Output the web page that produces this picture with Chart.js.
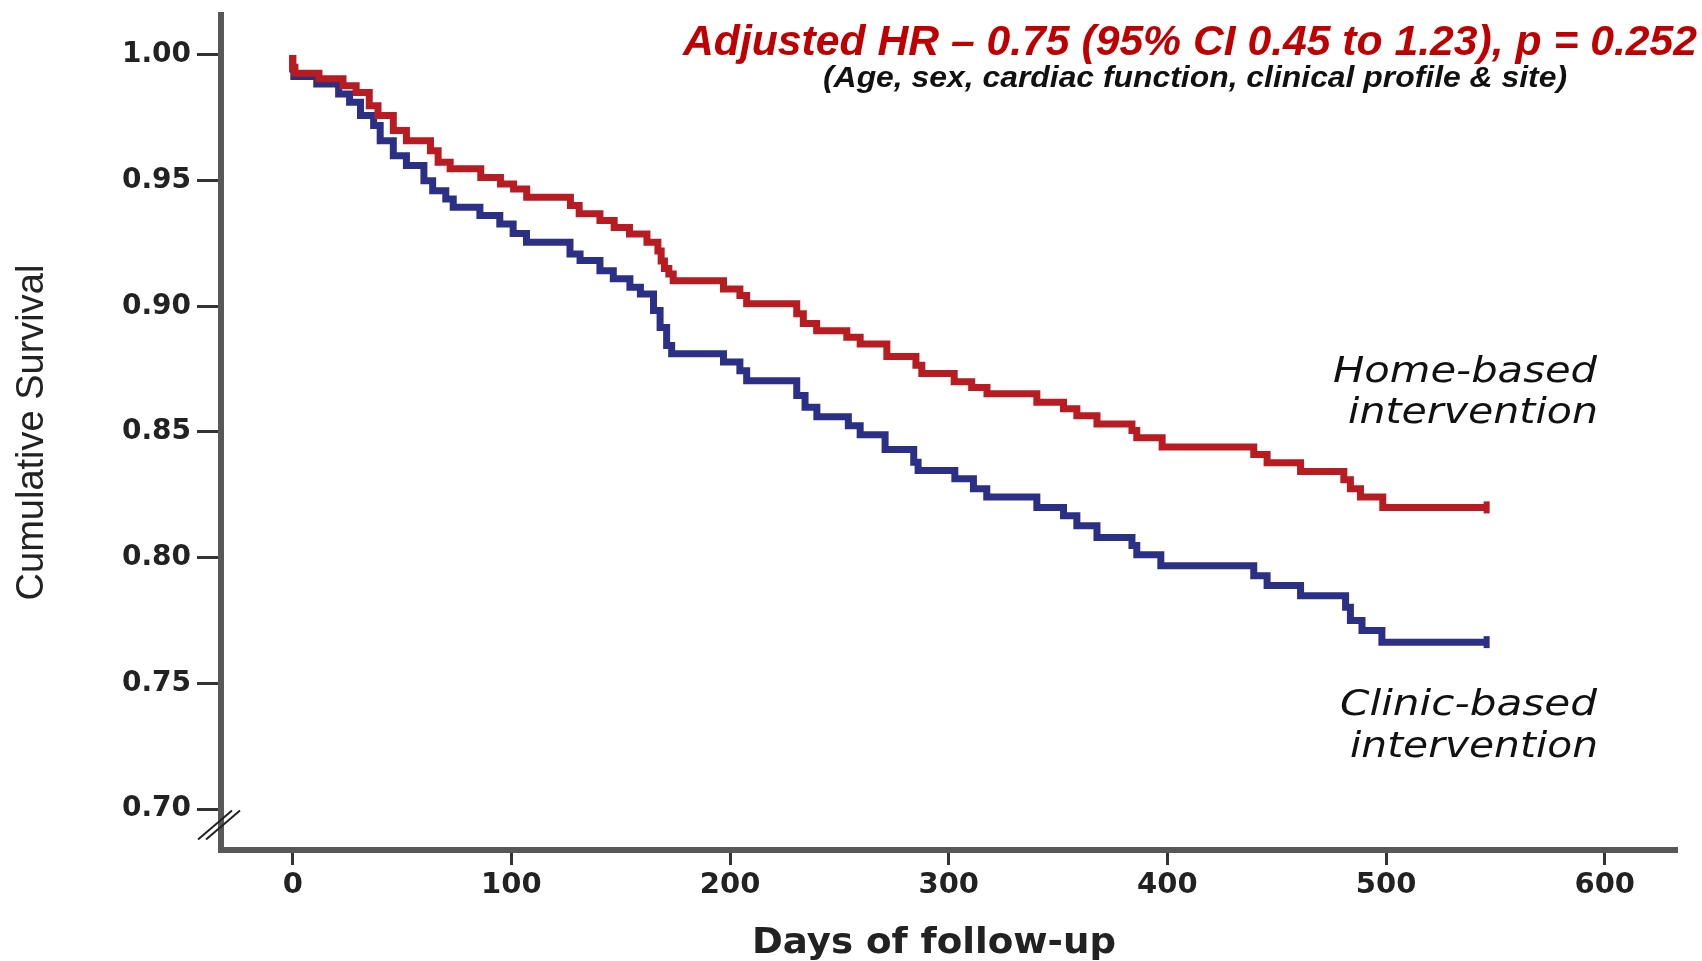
<!DOCTYPE html>
<html>
<head>
<meta charset="utf-8">
<script src="https://cdn.jsdelivr.net/npm/chart.js@4.4.1/dist/chart.umd.min.js"></script>
<style>
  html, body { margin: 0; padding: 0; background: #fff; }
  #wrap { width: 1702px; height: 961px; }
</style>
</head>
<body>
<div id="wrap"><canvas id="km" width="1702" height="961"></canvas></div>
<script>
// Kaplan-Meier steps: day where each level starts, and the level
const homeDays = [0, 1, 12, 23, 29, 35, 39, 46, 52, 63, 66.5, 72, 86, 95, 101, 107, 127, 131, 140.5, 147, 154, 162, 167, 168.5, 170, 172, 174, 197, 204.5, 207.6, 230.5, 233.5, 239.6, 253.4, 259.5, 271.7, 285, 287.7, 302.5, 310.5, 317.5, 340.3, 352.5, 358.6, 367.8, 383.8, 386, 397.6, 439.5, 445.6, 460.9, 480.7, 483.7, 488.3, 498.5, 505.9, 546];
const homeSurv = [1.000, 0.9951, 0.9927, 0.9905, 0.9878, 0.9851, 0.9798, 0.9759, 0.9699, 0.9659, 0.9619, 0.9573, 0.9547, 0.9513, 0.9487, 0.9467, 0.9434, 0.9401, 0.9368, 0.9341, 0.9314, 0.9288, 0.9255, 0.922, 0.918, 0.915, 0.9129, 0.9102, 0.9069, 0.9043, 0.9010, 0.8970, 0.8932, 0.8903, 0.8877, 0.8850, 0.8800, 0.8766, 0.8733, 0.8700, 0.8677, 0.8652, 0.8618, 0.8592, 0.8565, 0.8532, 0.8506, 0.8477, 0.8440, 0.8410, 0.8378, 0.8343, 0.8310, 0.8274, 0.8241, 0.8200, 0.8200];

const clinicDays = [0, 0.5, 11, 21, 26, 31, 37, 40, 46, 52, 60, 64, 70, 73.4, 85.6, 94.7, 100.8, 106.9, 126.8, 131.4, 140.5, 146.6, 154.2, 159, 165, 168, 171, 173.3, 197, 204.5, 207.6, 230.5, 234.3, 239.7, 254.1, 259.5, 270.9, 284, 286, 302.8, 311.3, 317.4, 340.3, 352.5, 358.6, 367.8, 383.8, 386, 397, 439.5, 445.6, 460.9, 481.5, 483.7, 489, 498.1, 505.9, 546];
const clinicSurv = [1.000, 0.9944, 0.9914, 0.9884, 0.9845, 0.9812, 0.9759, 0.9719, 0.9659, 0.9599, 0.9560, 0.9500, 0.9460, 0.9427, 0.9394, 0.9361, 0.9328, 0.9290, 0.9255, 0.9208, 0.9182, 0.9142, 0.9110, 0.9076, 0.9049, 0.8983, 0.8916, 0.8844, 0.8811, 0.8778, 0.8744, 0.8704, 0.8645, 0.8598, 0.8561, 0.8525, 0.8489, 0.8430, 0.8380, 0.8347, 0.8314, 0.8274, 0.8241, 0.8200, 0.8167, 0.8127, 0.8080, 0.8048, 0.8012, 0.7968, 0.7928, 0.7889, 0.7849, 0.7803, 0.7750, 0.7710, 0.7664, 0.7664];

const xTicks = [0, 100, 200, 300, 400, 500, 600];
const yTicks = [0.70, 0.75, 0.80, 0.85, 0.90, 0.95, 1.00];

const RED = "#b81c22";
const BLUE = "#2b2f86";
const AXIS = "#585858";

const toPoints = (days, surv) => days.map((d, i) => ({ x: d, y: surv[i] }));

// censor tick on the last point only
const lastOnly = (size) => (ctx) => (ctx.dataIndex === ctx.dataset.data.length - 1 ? size : 0);

// draw text squeezed / stretched to a given width (the slide text is not at natural proportions)
function fitText(ctx, str, left, baseline, width, font, color) {
  ctx.save();
  ctx.font = font;
  ctx.fillStyle = color;
  ctx.textBaseline = "alphabetic";
  ctx.textAlign = "left";
  const w = ctx.measureText(str).width;
  ctx.translate(left, baseline);
  ctx.scale(width / w, 1);
  ctx.fillText(str, 0, 0);
  ctx.restore();
}

const overlay = {
  id: "overlay",
  afterDraw(chart) {
    const ctx = chart.ctx;
    const x = chart.scales.x;
    const y = chart.scales.y;

    // axis break marks
    const bx = x.left;
    const by = y.getPixelForValue(0.6938);
    ctx.save();
    ctx.strokeStyle = "#222";
    ctx.lineWidth = 2;
    [-4, 4].forEach((off) => {
      ctx.beginPath();
      ctx.moveTo(bx - 19 + off, by + 15);
      ctx.lineTo(bx + 15 + off, by - 14);
      ctx.stroke();
    });
    ctx.restore();

    fitText(ctx, "Adjusted HR \u2013 0.75 (95% CI 0.45 to 1.23), p = 0.252", 683, 55, 1014,
      'italic bold 42px "Liberation Sans", Arial, sans-serif', "#c00000");
    fitText(ctx, "(Age, sex, cardiac function, clinical profile & site)", 823, 87, 744,
      'italic bold 29px "Liberation Sans", Arial, sans-serif', "#111");

    // x axis title sits a little left of the plot centre in the original
    fitText(ctx, "Days of follow-up", 752, 953, 364, 'bold 35px "DejaVu Sans", sans-serif', "#222");

    const lbl = 'italic 35px "DejaVu Sans", Verdana, sans-serif';
    fitText(ctx, "Home-based", 1333, 382, 264, lbl, "#111");
    fitText(ctx, "intervention", 1348, 423, 250, lbl, "#111");
    fitText(ctx, "Clinic-based", 1340, 715, 257, lbl, "#111");
    fitText(ctx, "intervention", 1350, 757, 248, lbl, "#111");
  },
};

Chart.defaults.font.family = '"DejaVu Sans", sans-serif';
Chart.defaults.color = "#222";

const series = (label, days, surv, color) => ({
  label,
  data: toPoints(days, surv),
  borderColor: color,
  backgroundColor: color,
  borderWidth: 7,
  stepped: "after",
  pointRadius: lastOnly(6),
  pointStyle: "line",
  rotation: 90,
  pointBorderWidth: 6,
  pointBorderColor: color,
});

new Chart(document.getElementById("km").getContext("2d"), {
  type: "line",
  data: {
    datasets: [
      series("Home-based intervention", homeDays, homeSurv, RED),
      series("Clinic-based intervention", clinicDays, clinicSurv, BLUE),
    ],
  },
  options: {
    responsive: false,
    animation: false,
    layout: { padding: { top: 15, right: 26, left: 0, bottom: 0 } },
    plugins: { legend: { display: false }, tooltip: { enabled: false } },
    scales: {
      x: {
        type: "linear",
        min: -32.8,
        max: 632.6,
        afterBuildTicks: (s) => { s.ticks = xTicks.map((v) => ({ value: v })); },
        afterFit: (s) => { s.height = 111; s.paddingLeft = 0; s.paddingRight = 0; },
        ticks: {
          font: { size: 29, weight: "bold" },
          color: "#222",
          padding: 3,
          maxRotation: 0,
          callback: (v) => String(v),
        },
        grid: { drawOnChartArea: false, drawTicks: true, tickLength: 15, color: "#333", lineWidth: 3 },
        border: { display: true, color: AXIS, width: 6 },
        title: { display: false },
      },
      y: {
        type: "linear",
        min: 0.6837,
        max: 1.0159,
        afterBuildTicks: (s) => { s.ticks = yTicks.map((v) => ({ value: v })); },
        afterFit: (s) => { s.width = 221; s.paddingTop = 0; s.paddingBottom = 0; },
        ticks: {
          font: { size: 28, weight: "bold" },
          color: "#222",
          padding: 6,
          callback: (v) => v.toFixed(2),
        },
        grid: { drawOnChartArea: false, drawTicks: true, tickLength: 24, color: "#333", lineWidth: 3 },
        border: { display: true, color: AXIS, width: 6 },
        title: {
          display: true,
          text: "Cumulative Survival",
          font: { family: '"Liberation Sans", Arial, sans-serif', size: 38, weight: "normal" },
          color: "#222",
          padding: { top: 10, bottom: 0 },
        },
      },
    },
  },
  plugins: [overlay],
});
</script>
</body>
</html>
